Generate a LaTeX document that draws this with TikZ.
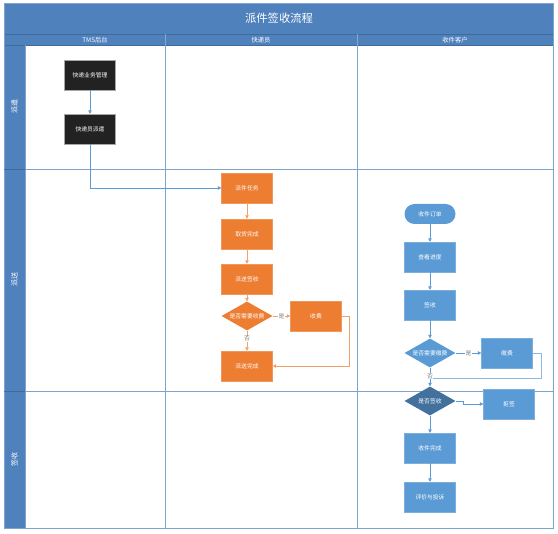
\documentclass[tikz,border=0pt]{standalone}
\usepackage{fontspec}
\newfontfamily\cjk{Noto Sans CJK SC}
\usetikzlibrary{arrows.meta,shapes.geometric}

\definecolor{barblue}{HTML}{4F81BD}
\definecolor{barline}{HTML}{41699A}
\definecolor{laneline}{HTML}{7FA3CF}
\definecolor{boxblue}{HTML}{5B9BD5}
\definecolor{deepblue}{HTML}{41719C}
\definecolor{boxorange}{HTML}{ED7D31}
\definecolor{lineorange}{HTML}{F2A16B}
\definecolor{boxblack}{HTML}{222222}

\tikzset{
  txt/.style={font=\cjk\fontsize{5.8}{7}\selectfont, text=white, align=center},
  procbox/.style={txt, rectangle, minimum width=51pt, minimum height=30pt, inner sep=0pt},
  blackbox/.style={procbox, fill=boxblack, draw=gray!70, line width=0.4pt},
  orangebox/.style={procbox, fill=boxorange, draw=boxorange!80!white, line width=0.4pt},
  bluebox/.style={procbox, fill=boxblue, draw=boxblue!80!white, line width=0.4pt},
  decision/.style={txt, diamond, aspect=1.75, minimum width=51pt, minimum height=29pt, inner sep=0pt},
  orangedec/.style={decision, fill=boxorange},
  bluedec/.style={decision, fill=boxblue},
  deepdec/.style={decision, fill=deepblue},
  startbox/.style={txt, rectangle, rounded corners=10pt, fill=boxblue, minimum width=51pt, minimum height=20pt, inner sep=0pt},
  bflow/.style={draw=boxblue, line width=0.7pt, -{Triangle[length=3.5pt,width=3.5pt]}},
  bplain/.style={draw=boxblue!70!white, line width=0.7pt},
  oflow/.style={draw=lineorange, line width=0.8pt, -{Triangle[length=3.5pt,width=3.5pt,fill=boxorange]}},
  branch/.style={font=\cjk\fontsize{5.8}{7}\selectfont, fill=white, inner sep=0.4pt},
  headtxt/.style={font=\cjk\fontsize{6.3}{7}\selectfont, text=white},
  lanetxt/.style={font=\cjk\fontsize{7}{8}\selectfont, text=white, rotate=90},
}

\begin{document}
\begin{tikzpicture}[x=1pt, y=-1pt]
\useasboundingbox (0,0) rectangle (558,534);
\fill[white] (0,0) rectangle (558,534);

% title bar, column header row and lane label column
\fill[barblue] (4,3) rectangle (553,45);
\fill[barblue] (4,45) rectangle (25,528);
\draw[barline, line width=0.5pt] (4,34) -- (553,34);
\draw[barline, line width=0.5pt] (4,45) -- (553,45);
\draw[barline!60!white, line width=0.4pt] (165,34) -- (165,45) (357,34) -- (357,45);

% swimlane grid
\draw[laneline, line width=0.6pt] (4,3) rectangle (553,528);
\draw[laneline, line width=0.6pt] (25,169) -- (553,169) (25,391) -- (553,391);
\draw[barline, line width=0.6pt] (4,169) -- (25,169) (4,391) -- (25,391);
\draw[laneline, line width=0.6pt] (25,45) -- (25,528);
\draw[laneline, line width=0.6pt] (165,45) -- (165,528) (357,45) -- (357,528);

% texts of the frame
\node[font=\cjk\fontsize{11.3}{13}\selectfont, text=white] (title) at (279,18) {派件签收流程};
\node[headtxt] (h1) at (95,40) {TMS后台};
\node[headtxt] (h2) at (261,40) {快递员};
\node[headtxt] (h3) at (455,40) {收件客户};
\node[lanetxt] (l1) at (14.5,107) {派遣};
\node[lanetxt] (l2) at (14.5,280) {派送};
\node[lanetxt] (l3) at (14.5,460) {签收};

% TMS back office
\node[blackbox] (m1) at (90,75) {快递业务管理};
\node[blackbox] (m2) at (90,129) {快递员派遣};

% courier
\node[orangebox] (o1) at (247,188) {派件任务};
\node[orangebox] (o2) at (247,234) {取货完成};
\node[orangebox] (o3) at (247,279) {派送签收};
\node[orangedec] (d1) at (247,316) {是否需要收费};
\node[orangebox] (o4) at (316,316) {收费};
\node[orangebox] (o5) at (247,366) {派送完成};

% recipient
\node[startbox] (b0) at (430,214) {收件订单};
\node[bluebox] (b1) at (430,257) {查看进度};
\node[bluebox] (b2) at (430,305) {签收};
\node[bluedec] (d2) at (430,353) {是否需要缴费};
\node[bluebox] (b3) at (507,353) {缴费};
\node[deepdec] (d3) at (430,401) {是否签收};
\node[bluebox] (b4) at (509,404) {拒签};
\node[bluebox] (b5) at (430,448) {收件完成};
\node[bluebox] (b6) at (430,497) {评价与投诉};

\coordinate (j1) at (541,353);
\coordinate (j2) at (430,378);

% connectors
\draw[bflow] (m1) -- (m2);
\draw[bflow] (m2.south) |- (o1.west);

\draw[oflow] (o1) -- (o2);
\draw[oflow] (o2) -- (o3);
\draw[oflow] (o3) -- (d1);
\draw[oflow] (d1) -- node[branch, text=gray] {是} (o4);
\draw[oflow] (d1) -- node[branch, text=gray, pos=0.4] {否} (o5);
\draw[oflow] (o4.east) -- ++(8,0) |- (o5.east);

\draw[bflow] (b0) -- (b1);
\draw[bflow] (b1) -- (b2);
\draw[bflow] (b2) -- (d2);
\draw[bflow] (d2) -- node[branch, text=gray] {是} (b3);
\draw[bplain] (b3.east) -- (j1) |- (j2);
\draw[bflow] (d2) -- node[branch, text=gray, pos=0.45] {否} (d3);
\draw[bflow] (d3.east) -- ++(8,0) |- (b4.west);
\draw[bflow] (d3) -- (b5);
\draw[bflow] (b5) -- (b6);
\end{tikzpicture}
\end{document}
